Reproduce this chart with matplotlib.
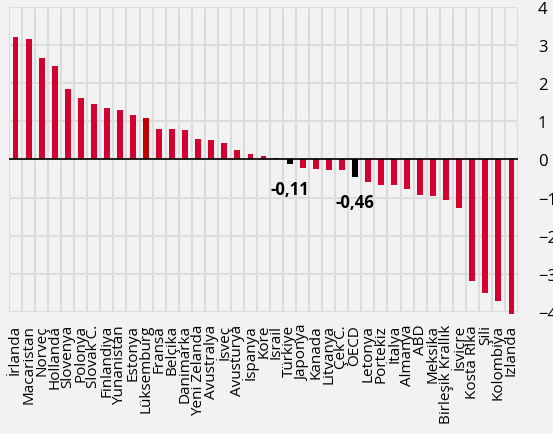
import numpy as np
import matplotlib
matplotlib.use("Agg")
import matplotlib.pyplot as plt

plt.rcParams['font.family'] = ['Open Sans', 'DejaVu Sans']

# Data
countries = ["İrlanda", "Macaristan", "Norveç", "Hollanda", "Slovenya", "Polonya", "Slovak C.",
             "Finlandiya", "Yunanistan", "Estonya", "Lüksemburg", "Fransa", "Belçika", "Danimarka",
             "Yeni Zelanda", "Avustralya", "İsveç", "Avusturya", "İspanya", "Kore", "İsrail",
             "Türkiye", "Japonya", "Kanada", "Litvanya", "Çek C.", "OECD", "Letonya", "Portekiz",
             "İtalya", "Almanya", "ABD", "Meksika", "Birleşik Krallık", "İsviçre", "Kosta Rika",
             "Şili", "Kolombiya", "İzlanda"]
values = [3.22, 3.15, 2.67, 2.45, 1.85, 1.61, 1.46, 1.36, 1.29, 1.16, 1.09, 0.81, 0.80, 0.78,
          0.53, 0.50, 0.42, 0.26, 0.14, 0.08, 0.03, -0.11, -0.23, -0.26, -0.27, -0.27, -0.46,
          -0.59, -0.67, -0.67, -0.77, -0.93, -0.96, -1.05, -1.28, -3.19, -3.49, -3.71, -4.06]
highlight = {"Türkiye": "-0,11", "OECD": "-0,46"}

# Colors
bg = "#f2f2f2"
red = "#d50032"
dark_red = "#c00000"
grid_c = "#dcdcdc"

colors = []
for c in countries:
    if c in highlight:
        colors.append("black")
    elif c == "Lüksemburg":
        colors.append(dark_red)
    else:
        colors.append(red)

fig = plt.figure(figsize=(5.53, 4.35), dpi=100)
fig.patch.set_facecolor(bg)
ax = fig.add_axes([0.0163, 0.2805, 0.9204, 0.7011])
ax.set_facecolor(bg)

x = np.arange(len(countries))
ax.bar(x, values, width=0.45, color=colors, zorder=3, clip_on=False)
ax.axhline(0, color="black", lw=1.2, zorder=4)

ax.set_xlim(-0.5, len(countries) - 0.5)
ax.set_ylim(-4, 4)

ax.set_xticks(x)
ax.set_xticklabels(countries, rotation=90, fontsize=11, ha="center", va="top")
ax.set_xticks(np.arange(-0.5, len(countries), 1), minor=True)
ax.tick_params(axis="x", which="both", length=0, pad=8.6)

ax.set_yticks(np.arange(-4, 5, 1))
ax.yaxis.tick_right()
ax.tick_params(axis="y", length=0, pad=14.4, labelsize=12)
for lab in ax.get_yticklabels():
    lab.set_horizontalalignment("left")

ax.grid(axis="y", color=grid_c, lw=1.5, zorder=0)
ax.grid(axis="x", which="minor", color=grid_c, lw=1.5, zorder=0)
ax.grid(axis="x", which="major", visible=False)
for s in ax.spines.values():
    s.set_visible(False)

for i, c in enumerate(countries):
    if c in highlight:
        ax.annotate(highlight[c], (i, values[i]), xytext=(0, -18), textcoords="offset points",
                    ha="center", va="center", fontsize=12, fontweight="bold", zorder=5)

fig.savefig("out.png", dpi=100, facecolor=bg)
